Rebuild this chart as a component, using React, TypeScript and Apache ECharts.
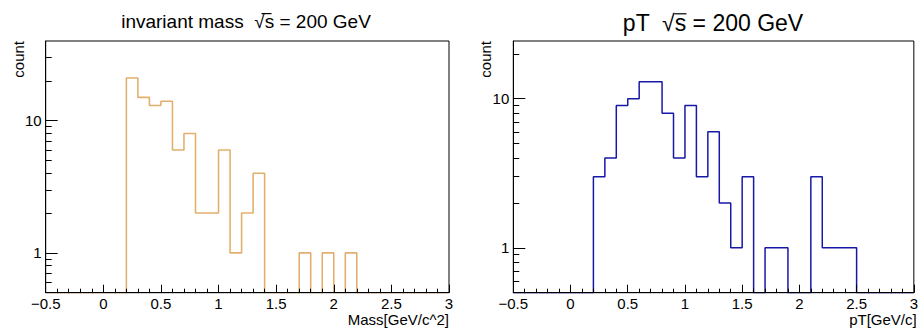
import React, { useEffect, useRef } from 'react';
import * as echarts from 'echarts';

// Histogram binning (both panels share it)
const BIN_START = -0.5;
const BIN_WIDTH = 0.1;
const BIN_COUNT = 35;

// Left panel: invariant mass counts per bin (from -0.5 to 3.0)
const massCounts = [
  0, 0, 0, 0, 0, 0, 0,
  21, 15, 13, 14, 6, 8, 2, 2, 6, 1, 2, 4,
  0, 0, 0, 1, 0, 1, 0, 1,
  0, 0, 0, 0, 0, 0, 0, 0,
];

// Right panel: pT counts per bin (from -0.5 to 3.0)
const ptCounts = [
  0, 0, 0, 0, 0, 0, 0,
  3, 4, 9, 10, 13, 13, 8, 4, 9, 3, 6, 2, 1, 3,
  0, 1, 1, 0, 0, 3, 1, 1, 1,
  0, 0, 0, 0, 0,
];

const X_MIN = -0.5;
const X_MAX = 3;
const X_INTERVAL = 0.5;
const Y_MIN = 0.5;
const MASS_Y_MAX = 40;
const PT_Y_MAX = 24.4;
const Y_MAJOR_TICKS = [1, 10];
const Y_MINOR_TICKS = [0.6, 0.7, 0.8, 0.9, 2, 3, 4, 5, 6, 7, 8, 9, 20, 30];

const massTitle = 'invariant mass  √s = 200 GeV';
const ptTitle = 'pT  √s = 200 GeV';
const massXTitle = 'Mass[GeV/c^2]';
const ptXTitle = 'pT[GeV/c]';
const yTitle = 'count';

const MASS_COLOR = '#e2b06e';
const PT_COLOR = '#1818a8';
const FONT = '"Liberation Sans", Arial, Helvetica, sans-serif';

function stepData(counts: number[], floor: number): number[][] {
  const pts: number[][] = [];
  for (let i = 0; i < counts.length; i++) {
    pts.push([BIN_START + i * BIN_WIDTH, Math.max(counts[i], floor)]);
  }
  pts.push([BIN_START + BIN_COUNT * BIN_WIDTH, Math.max(counts[counts.length - 1], floor)]);
  return pts.map((p) => [Math.round(p[0] * 1000) / 1000, p[1]]);
}

function xAxis(gridIndex: number) {
  return {
    type: 'value',
    gridIndex,
    min: X_MIN,
    max: X_MAX,
    interval: X_INTERVAL,
    z: 5,
    axisLine: { show: true, onZero: false, lineStyle: { color: '#000', width: 1 } },
    axisTick: { show: true, inside: true, length: 8, lineStyle: { color: '#000', width: 1 } },
    minorTick: { show: true, splitNumber: 5, length: 4, lineStyle: { color: '#000', width: 1 } },
    axisLabel: {
      show: true,
      margin: 3,
      fontSize: 15,
      fontFamily: FONT,
      color: '#000',
      formatter: (v: number) => (v < 0 ? '\u2212' + Math.abs(v) : String(v)),
    },
    splitLine: { show: false },
    minorSplitLine: { show: false },
  };
}

function yAxisMajor(gridIndex: number, max: number) {
  return {
    type: 'log',
    logBase: 10,
    gridIndex,
    position: 'left',
    min: Y_MIN,
    max,
    z: 5,
    axisLine: { show: true, onZero: false, lineStyle: { color: '#000', width: 1 } },
    axisTick: {
      show: true,
      inside: true,
      length: 12,
      customValues: Y_MAJOR_TICKS,
      lineStyle: { color: '#000', width: 1 },
    },
    axisLabel: {
      show: true,
      customValues: Y_MAJOR_TICKS,
      margin: 4,
      fontSize: 15,
      fontFamily: FONT,
      color: '#000',
      formatter: (v: number) => String(v),
    },
    splitLine: { show: false },
    minorTick: { show: false },
  };
}

function yAxisMinor(gridIndex: number, max: number) {
  return {
    type: 'log',
    logBase: 10,
    gridIndex,
    position: 'left',
    offset: 0,
    min: Y_MIN,
    max,
    z: 5,
    axisLine: { show: false, onZero: false },
    axisTick: {
      show: true,
      inside: true,
      length: 6,
      customValues: Y_MINOR_TICKS,
      lineStyle: { color: '#000', width: 1 },
    },
    axisLabel: { show: false },
    splitLine: { show: false },
    minorTick: { show: false },
  };
}

function text(x: number, y: number, t: string, size: number, align: string, extra: any = {}) {
  return {
    type: 'text',
    x,
    y,
    z: 10,
    ...extra,
    style: {
      text: t,
      fill: '#000',
      font: `${size}px ${FONT}`,
      align,
      verticalAlign: 'middle',
    },
  };
}

function overline(x1: number, x2: number, y: number) {
  return {
    type: 'line',
    z: 10,
    shape: { x1, y1: y, x2, y2: y },
    style: { stroke: '#000', lineWidth: 1.2 },
  };
}

export default function App() {
  const ref = useRef<HTMLDivElement>(null);

  useEffect(() => {
    if (!ref.current) return;
    const chart = echarts.init(ref.current, undefined, { renderer: 'svg' });
    const LGRID = { left: 45.7, top: 41, width: 403.3, height: 251.7 };
    const RGRID = { left: 513.3, top: 41, width: 403.4, height: 251.7 };
    chart.setOption({
      animation: false,
      backgroundColor: '#fff',
      grid: [
        { ...LGRID, show: true, borderColor: '#000', borderWidth: 1, backgroundColor: 'transparent' },
        { ...RGRID, show: true, borderColor: '#000', borderWidth: 1, backgroundColor: 'transparent' },
      ],
      xAxis: [xAxis(0), xAxis(1)],
      yAxis: [
        yAxisMajor(0, MASS_Y_MAX),
        yAxisMinor(0, MASS_Y_MAX),
        yAxisMajor(1, PT_Y_MAX),
        yAxisMinor(1, PT_Y_MAX),
      ],
      series: [
        {
          type: 'line',
          name: 'mass',
          xAxisIndex: 0,
          yAxisIndex: 0,
          step: 'end',
          data: stepData(massCounts, Y_MIN),
          symbol: 'none',
          showSymbol: false,
          silent: true,
          clip: true,
          lineStyle: { color: MASS_COLOR, width: 1.6 },
          z: 2,
        },
        {
          type: 'line',
          name: 'pT',
          xAxisIndex: 1,
          yAxisIndex: 2,
          step: 'end',
          data: stepData(ptCounts, Y_MIN),
          symbol: 'none',
          showSymbol: false,
          silent: true,
          clip: true,
          lineStyle: { color: PT_COLOR, width: 1.5 },
          z: 2,
        },
      ],
      graphic: [
        text(246, 21, massTitle, 19, 'center'),
        overline(261.5, 271.5, 13.6),
        text(713, 23, ptTitle, 23, 'center'),
        overline(674.5, 686.5, 13.8),
        text(449, 319, massXTitle, 15, 'right'),
        text(916.7, 319, ptXTitle, 15, 'right'),
        text(18, 41, yTitle, 15, 'right', { rotation: Math.PI / 2 }),
        text(485, 41, yTitle, 15, 'right', { rotation: Math.PI / 2 }),
      ],
    });
    return () => chart.dispose();
  }, []);

  return (
    <div
      ref={ref}
      style={{ position: 'fixed', left: 0, top: 0, width: 921, height: 331, background: '#fff' }}
    />
  );
}
